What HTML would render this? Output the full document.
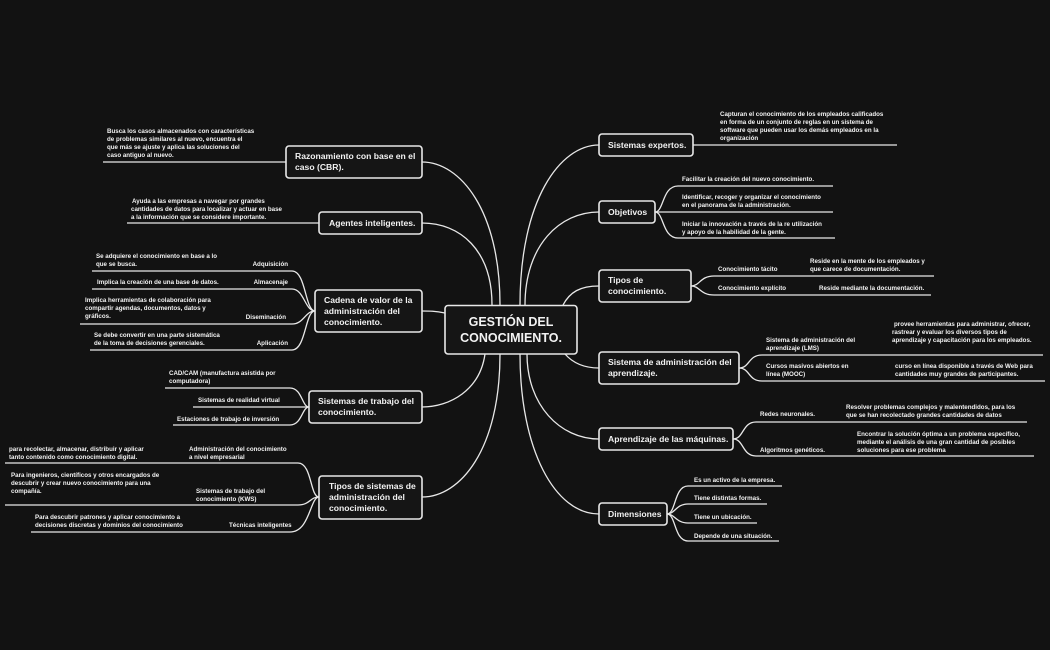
<!DOCTYPE html>
<html><head><meta charset="utf-8"><style>
html,body{margin:0;padding:0;background:#121212;}
svg{display:block;}
text{font-family:"Liberation Sans",sans-serif;fill:#f2f2f2;font-weight:bold;}
.s{font-size:6.2px;}
.n{font-size:8.6px;}
.c{font-size:12.5px;}
path,line{stroke:#e8e8e8;stroke-width:1.3;fill:none;}
rect{stroke:#e8e8e8;stroke-width:1.6;fill:#151515;}
</style></head><body>
<svg width="1050" height="650" viewBox="0 0 1050 650" xmlns="http://www.w3.org/2000/svg">
<rect x="0" y="0" width="1050" height="650" style="fill:#121212;stroke:none"/>
<!-- main connectors left -->
<path d="M500,305 C500,210 460,162 422,162"/>
<path d="M492,305 C492,250 460,223 422,223"/>
<path d="M445,313 C435,311 430,311 422,311"/>
<path d="M485,354 C480,390 450,407 422,407"/>
<path d="M500,354 C500,450 460,497 422,497"/>
<!-- main connectors right -->
<path d="M520,305 C520,200 560,145 599,145"/>
<path d="M525,305 C525,245 560,212 599,212"/>
<path d="M563,305 C570,292 580,286 599,286"/>
<path d="M565,354 C572,362 582,368 599,368"/>
<path d="M527,354 C527,405 560,439 599,439"/>
<path d="M520,354 C520,450 555,514 599,514"/>
<!-- center -->
<rect x="445" y="305.5" width="132" height="48.5" rx="3"/>
<text class="c" x="511" y="326" text-anchor="middle">GESTIÓN DEL</text>
<text class="c" x="511" y="342" text-anchor="middle">CONOCIMIENTO.</text>

<!-- Razonamiento -->
<line x1="103" y1="162" x2="286" y2="162"/>
<rect x="286" y="146" width="136" height="32" rx="3"/>
<text class="n" x="295" y="159">Razonamiento con base en el</text>
<text class="n" x="295" y="170">caso (CBR).</text>
<text class="s" x="107" y="133">Busca los casos almacenados con características</text>
<text class="s" x="107" y="141">de problemas similares al nuevo, encuentra el</text>
<text class="s" x="107" y="149">que más se ajuste y aplica las soluciones del</text>
<text class="s" x="107" y="157">caso antiguo al nuevo.</text>

<!-- Agentes -->
<line x1="127" y1="223" x2="319" y2="223"/>
<rect x="319" y="212" width="103" height="22" rx="3"/>
<text class="n" x="329" y="226">Agentes inteligentes.</text>
<text class="s" x="132" y="203">Ayuda a las empresas a navegar por grandes</text>
<text class="s" x="131" y="211">cantidades de datos para localizar y actuar en base</text>
<text class="s" x="131" y="219">a la información que se considere importante.</text>

<!-- Cadena -->
<path d="M92,271 L292,271 C306,271 305,311 315,311"/>
<path d="M92,289 L292,289 C304,289 305,311 315,311"/>
<path d="M80,324 L292,324 C304,324 305,311 315,311"/>
<path d="M90,350 L292,350 C306,350 305,311 315,311"/>
<rect x="315" y="290" width="107" height="42" rx="3"/>
<text class="n" x="324" y="303">Cadena de valor de la</text>
<text class="n" x="324" y="314">administración del</text>
<text class="n" x="324" y="325">conocimiento.</text>
<text class="s" x="96" y="258">Se adquiere el conocimiento en base a lo</text>
<text class="s" x="96" y="266">que se busca.</text>
<text class="s" x="288" y="266" text-anchor="end">Adquisición</text>
<text class="s" x="97" y="284">Implica la creación de una base de datos.</text>
<text class="s" x="288" y="284" text-anchor="end">Almacenaje</text>
<text class="s" x="85" y="302">Implica herramientas de colaboración para</text>
<text class="s" x="85" y="310">compartir agendas, documentos, datos y</text>
<text class="s" x="85" y="318">gráficos.</text>
<text class="s" x="286" y="319" text-anchor="end">Diseminación</text>
<text class="s" x="94" y="337">Se debe convertir en una parte sistemática</text>
<text class="s" x="94" y="345">de la toma de decisiones gerenciales.</text>
<text class="s" x="288" y="345" text-anchor="end">Aplicación</text>

<!-- Sistemas de trabajo -->
<path d="M165,388 L290,388 C302,388 302,407 309,407"/>
<line x1="193" y1="407" x2="309" y2="407"/>
<path d="M173,425 L290,425 C302,425 302,407 309,407"/>
<rect x="309" y="391" width="113" height="32" rx="3"/>
<text class="n" x="318" y="404">Sistemas de trabajo del</text>
<text class="n" x="318" y="415">conocimiento.</text>
<text class="s" x="169" y="375">CAD/CAM (manufactura asistida por</text>
<text class="s" x="169" y="383">computadora)</text>
<text class="s" x="198" y="402">Sistemas de realidad virtual</text>
<text class="s" x="177" y="421">Estaciones de trabajo de inversión</text>

<!-- Tipos de sistemas -->
<path d="M5,463 L298,463 C312,463 310,497 319,497"/>
<path d="M5,505 L298,505 C310,505 310,497 319,497"/>
<path d="M31,532 L290,532 C310,532 310,497 319,497"/>
<rect x="319" y="476" width="103" height="43" rx="3"/>
<text class="n" x="329" y="489">Tipos de sistemas de</text>
<text class="n" x="329" y="500">administración del</text>
<text class="n" x="329" y="511">conocimiento.</text>
<text class="s" x="9" y="451">para recolectar, almacenar, distribuir y aplicar</text>
<text class="s" x="9" y="459">tanto contenido como conocimiento digital.</text>
<text class="s" x="189" y="451">Administración del conocimiento</text>
<text class="s" x="189" y="459">a nivel empresarial</text>
<text class="s" x="11" y="477">Para ingenieros, científicos y otros encargados de</text>
<text class="s" x="11" y="485">descubrir y crear nuevo conocimiento para una</text>
<text class="s" x="11" y="493">compañía.</text>
<text class="s" x="196" y="493">Sistemas de trabajo del</text>
<text class="s" x="196" y="501">conocimiento (KWS)</text>
<text class="s" x="35" y="519">Para descubrir patrones  y aplicar conocimiento a</text>
<text class="s" x="35" y="527">decisiones  discretas y dominios del conocimiento</text>
<text class="s" x="229" y="527">Técnicas inteligentes</text>

<!-- Sistemas expertos -->
<line x1="693" y1="145" x2="897" y2="145"/>
<rect x="599" y="134" width="94" height="22" rx="3"/>
<text class="n" x="608" y="148">Sistemas expertos.</text>
<text class="s" x="720" y="116">Capturan el conocimiento de los empleados calificados</text>
<text class="s" x="720" y="124">en forma de un conjunto de reglas en un sistema de</text>
<text class="s" x="720" y="132">software que pueden usar los demás empleados en la</text>
<text class="s" x="720" y="140">organización</text>

<!-- Objetivos -->
<path d="M655,212 C664,212 662,186 678,186 L833,186"/>
<line x1="655" y1="212" x2="833" y2="212"/>
<path d="M655,212 C664,212 662,238 678,238 L835,238"/>
<rect x="599" y="201" width="56" height="22" rx="3"/>
<text class="n" x="608" y="215">Objetivos</text>
<text class="s" x="682" y="181">Facilitar la creación del nuevo conocimiento.</text>
<text class="s" x="682" y="199">Identificar, recoger y organizar el conocimiento</text>
<text class="s" x="682" y="207">en el panorama de la administración.</text>
<text class="s" x="682" y="226">Iniciar la innovación a través de la re utilización</text>
<text class="s" x="682" y="234">y apoyo de la habilidad de la gente.</text>

<!-- Tipos de conocimiento -->
<path d="M691,286 C700,286 700,276 714,276 L934,276"/>
<path d="M691,286 C700,286 700,295 714,295 L931,295"/>
<rect x="599" y="270" width="92" height="32" rx="3"/>
<text class="n" x="608" y="283">Tipos de</text>
<text class="n" x="608" y="294">conocimiento.</text>
<text class="s" x="718" y="271">Conocimiento tácito</text>
<text class="s" x="810" y="263">Reside en la mente de los empleados y</text>
<text class="s" x="810" y="271">que carece de documentación.</text>
<text class="s" x="718" y="290">Conocimiento explícito</text>
<text class="s" x="819" y="290">Reside mediante la documentación.</text>

<!-- Sistema de administración del aprendizaje -->
<path d="M739,368 C750,368 748,355 762,355 L1043,355"/>
<path d="M739,368 C750,368 748,381 762,381 L1045,381"/>
<rect x="599" y="352" width="140" height="32" rx="3"/>
<text class="n" x="608" y="365">Sistema de administración del</text>
<text class="n" x="608" y="376">aprendizaje.</text>
<text class="s" x="766" y="342">Sistema de administración del</text>
<text class="s" x="766" y="350">aprendizaje (LMS)</text>
<text class="s" x="894" y="326">provee herramientas para administrar, ofrecer,</text>
<text class="s" x="892" y="334">rastrear y evaluar los diversos tipos de</text>
<text class="s" x="892" y="342">aprendizaje y capacitación para los empleados.</text>
<text class="s" x="766" y="368">Cursos masivos abiertos en</text>
<text class="s" x="766" y="376">línea (MOOC)</text>
<text class="s" x="895" y="368">curso en línea disponible a través de Web para</text>
<text class="s" x="895" y="376">cantidades muy grandes de participantes.</text>

<!-- Aprendizaje de las máquinas -->
<path d="M733,439 C744,439 742,422 756,422 L1027,422"/>
<path d="M733,439 C744,439 742,456 756,456 L1034,456"/>
<rect x="599" y="428" width="134" height="22" rx="3"/>
<text class="n" x="608" y="442">Aprendizaje de las máquinas.</text>
<text class="s" x="760" y="416">Redes neuronales.</text>
<text class="s" x="846" y="409">Resolver problemas complejos y malentendidos, para los</text>
<text class="s" x="846" y="417">que se han recolectado grandes cantidades de datos</text>
<text class="s" x="857" y="436">Encontrar la solución óptima a un problema específico,</text>
<text class="s" x="857" y="444">mediante el análisis de una gran cantidad de posibles</text>
<text class="s" x="857" y="452">soluciones para ese problema</text>
<text class="s" x="760" y="452">Algoritmos genéticos.</text>

<!-- Dimensiones -->
<path d="M667,514 C676,514 674,486 688,486 L782,486"/>
<path d="M667,514 C675,514 676,504 688,504 L767,504"/>
<path d="M667,514 C675,514 676,523 688,523 L757,523"/>
<path d="M667,514 C676,514 674,541 688,541 L779,541"/>
<rect x="599" y="503" width="68" height="22" rx="3"/>
<text class="n" x="608" y="517">Dimensiones</text>
<text class="s" x="694" y="482">Es un activo de la empresa.</text>
<text class="s" x="694" y="500">Tiene distintas formas.</text>
<text class="s" x="694" y="519">Tiene un ubicación.</text>
<text class="s" x="694" y="538">Depende de una situación.</text>
</svg>
</body></html>
